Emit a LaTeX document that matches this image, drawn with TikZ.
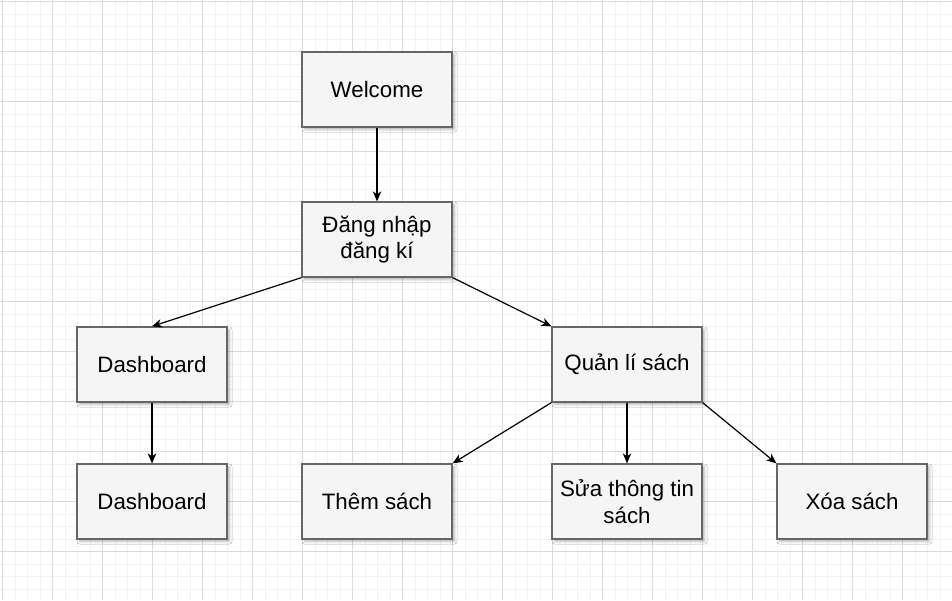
\documentclass[tikz,border=0pt]{standalone}
\usepackage{fontspec}
\setmainfont{Liberation Sans}
\usetikzlibrary{arrows.meta,shadows.blur}
\definecolor{boxfill}{HTML}{F5F5F5}
\definecolor{boxline}{HTML}{666666}
\definecolor{minorgrid}{HTML}{F2F2F2}
\definecolor{majorgrid}{HTML}{DADADA}
\tikzset{
  box/.style={draw=boxline, fill=boxfill, line width=1.3pt, minimum width=150pt, minimum height=75pt,
    inner sep=0pt, align=center, font=\fontsize{22.3pt}{26.5pt}\selectfont,
    blur shadow={shadow xshift=2.5pt, shadow yshift=-2.5pt, shadow blur radius=2.5pt, shadow opacity=30}},
  conn/.style={line width=1.2pt, -{Stealth[length=10pt, width=8.5pt, inset=3pt]}},
  minorline/.style={draw=minorgrid, line width=0.8pt},
  majorline/.style={draw=majorgrid, line width=0.8pt}
}
\begin{document}
\begin{tikzpicture}[x=1pt, y=-1pt]
\useasboundingbox (0,0) rectangle (952,600);
\fill[white] (0,0) rectangle (952,600);
\foreach \i in {0,...,76} {\draw[minorline] ({2.7+12.5*\i},0) -- ++(0,600);}
\foreach \i in {0,...,48} {\draw[minorline] (0,{1.7+12.5*\i}) -- ++(952,0);}
\foreach \i in {0,...,19} {\draw[majorline] ({2.7+50*\i},0) -- ++(0,600);}
\foreach \i in {0,...,12} {\draw[majorline] (0,{1.7+50*\i}) -- ++(952,0);}

\node[box] (welcome) at (377,89.5) {Welcome};
\node[box] (dang) at (377,239.5) {Đăng nhập\\đăng kí};
\node[box] (dash1) at (152,364.5) {Dashboard};
\node[box] (ql) at (627,364.5) {Quản lí sách};
\node[box] (dash2) at (152,501.5) {Dashboard};
\node[box] (them) at (377,501.5) {Thêm sách};
\node[box] (sua) at (627,501.5) {Sửa thông tin\\sách};
\node[box] (xoa) at (852,501.5) {Xóa sách};

\draw[conn] (welcome.south) -- (dang.north);
\draw[conn] (dang.south west) -- (dash1.north);
\draw[conn] (dang.south east) -- (ql.north west);
\draw[conn] (dash1.south) -- (dash2.north);
\draw[conn] (ql.south west) -- (them.north east);
\draw[conn] (ql.south) -- (sua.north);
\draw[conn] (ql.south east) -- (xoa.north west);
\end{tikzpicture}
\end{document}
